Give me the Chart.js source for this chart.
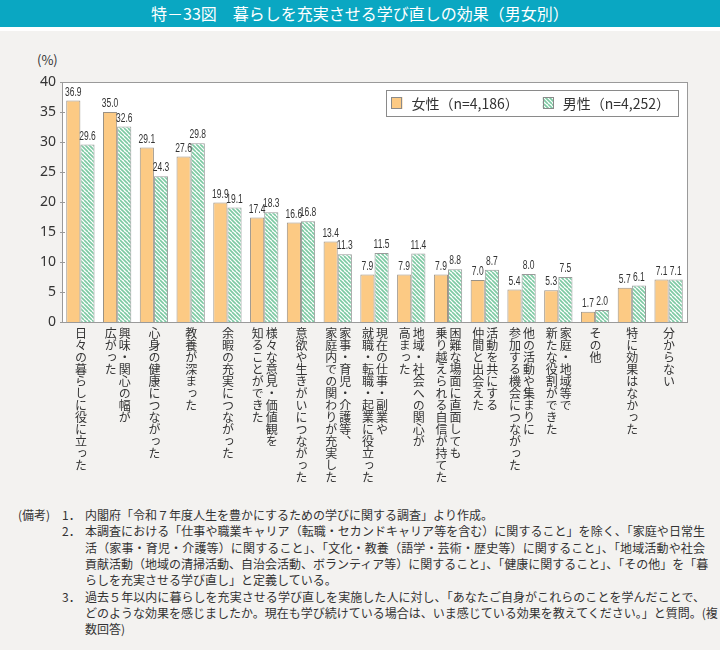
<!DOCTYPE html>
<html lang="ja">
<head>
<meta charset="utf-8">
<script src="https://cdn.jsdelivr.net/npm/chart.js@4.4.1/dist/chart.umd.min.js"></script>
<style>
  html, body { margin: 0; padding: 0; }
  body { width: 720px; height: 650px; background: #f3f2f0; position: relative; overflow: hidden;
         font-family: "Noto Sans CJK JP", sans-serif; color: #333; }
  #title { position: absolute; left: 0; top: 0; width: 720px; height: 27px; background: #0aa7c2;
           color: #fff; font-size: 16px; line-height: 27px; text-align: center; }
  #titleGap { position: absolute; left: 0; top: 27px; width: 720px; height: 4px; background: #fff; }
  #wrap { position: absolute; left: 0; top: 32px; width: 720px; height: 470px; }
  #unit { position: absolute; left: 37px; top: 50px; font-size: 13px; }
  .xl { position: absolute; writing-mode: vertical-rl; transform: translateX(-50%);
        font-size: 12px; line-height: 14px; white-space: nowrap; color: #333; }
  .nl { position: absolute; font-size: 12px; line-height: 16.3px; height: 16.3px; white-space: nowrap; }
  .jl { text-align: justify; text-align-last: justify; width: 620px; }
</style>
</head>
<body>
<div id="title">特－33図　暮らしを充実させる学び直しの効果（男女別）</div>
<div id="titleGap"></div>
<div id="unit">(%)</div>
<div id="wrap"><canvas id="myChart"></canvas></div>
<div id="notes"></div>

<script>
// 項目（縦書き、右の列から）
var categories = [
    ['日々の暮らしに役に立った'],
    ['興味・関心の幅が', '広がった'],
    ['心身の健康につながった'],
    ['教養が深まった'],
    ['余暇の充実につながった'],
    ['様々な意見・価値観を', '知ることができた'],
    ['意欲や生きがいにつながった'],
    ['家事・育児・介護等、', '家庭内での関わりが充実した'],
    ['現在の仕事・副業や', '就職・転職・起業に役立った'],
    ['地域・社会への関心が', '高まった'],
    ['困難な場面に直面しても', '乗り越えられる自信が持てた'],
    ['活動を共にする', '仲間と出会えた'],
    ['他の活動や集まりに', '参加する機会につながった'],
    ['家庭・地域等で', '新たな役割ができた'],
    ['その他'],
    ['特に効果はなかった'],
    ['分からない']
];
var female = [36.9, 35.0, 29.1, 27.6, 19.9, 17.4, 16.6, 13.4, 7.9, 7.9, 7.9, 7.0, 5.4, 5.3, 1.7, 5.7, 7.1];
var male   = [29.6, 32.6, 24.3, 29.8, 19.1, 18.3, 16.8, 11.3, 11.5, 11.4, 8.8, 8.7, 8.0, 7.5, 2.0, 6.1, 7.1];
var seriesNames = ['女性（n=4,186）', '男性（n=4,252）'];
var yTicks = [0, 5, 10, 15, 20, 25, 30, 35, 40];

var notes = [
    { no: '1．', lines: ['内閣府「令和７年度人生を豊かにするための学びに関する調査」より作成。'] },
    { no: '2．', lines: [
        '本調査における「仕事や職業キャリア（転職・セカンドキャリア等を含む）に関すること」を除く、「家庭や日常生',
        '活（家事・育児・介護等）に関すること」、「文化・教養（語学・芸術・歴史等）に関すること」、「地域活動や社会',
        '貢献活動（地域の清掃活動、自治会活動、ボランティア等）に関すること」、「健康に関すること」、「その他」を「暮',
        'らしを充実させる学び直し」と定義している。'] },
    { no: '3．', lines: [
        '過去５年以内に暮らしを充実させる学び直しを実施した人に対し、「あなたご自身がこれらのことを学んだことで、',
        'どのような効果を感じましたか。現在も学び続けている場合は、いま感じている効果を教えてください。」と質問。(複',
        '数回答)'] }
];

// 備考
(function () {
    var box = document.getElementById('notes');
    var top = 507, lh = 16.3;
    function add(text, left, cls) {
        var d = document.createElement('div');
        d.className = 'nl' + (cls ? ' ' + cls : '');
        d.style.left = left + 'px';
        d.style.top = top + 'px';
        d.textContent = text;
        box.appendChild(d);
    }
    add('(備考)', 18);
    notes.forEach(function (n) {
        add(n.no, 62);
        n.lines.forEach(function (t, i) {
            add(t, 85, i < n.lines.length - 1 ? 'jl' : '');
            top += lh;
        });
    });
})();

// 男性の斜線パターン
function stripes() {
    var c = document.createElement('canvas');
    c.width = c.height = 8;
    var g = c.getContext('2d');
    g.fillStyle = '#ffffff';
    g.fillRect(0, 0, 8, 8);
    g.strokeStyle = '#7cc9a2';
    g.lineWidth = 1.6;
    for (var k = -8; k <= 16; k += 4) {
        g.beginPath();
        g.moveTo(k, 0);
        g.lineTo(k + 8, 8);
        g.stroke();
    }
    return g.createPattern(c, 'repeat');
}

var plotFrame = {
    id: 'plotFrame',
    beforeDatasetsDraw: function (chart) {
        var a = chart.chartArea, ctx = chart.ctx;
        ctx.save();
        ctx.fillStyle = '#ffffff';
        ctx.fillRect(a.left, a.top, a.right - a.left, a.bottom - a.top);
        ctx.restore();
    },
    afterDatasetsDraw: function (chart) {
        var a = chart.chartArea, ctx = chart.ctx, y = chart.scales.y;
        ctx.save();
        ctx.strokeStyle = '#9a9a9a';
        ctx.lineWidth = 1;
        ctx.strokeRect(Math.round(a.left) + 0.5, Math.round(a.top) + 0.5,
                       Math.round(a.right - a.left), Math.round(a.bottom - a.top));
        yTicks.forEach(function (v) {
            var py = Math.round(y.getPixelForValue(v)) + 0.5;
            ctx.beginPath();
            ctx.moveTo(a.left - 2, py);
            ctx.lineTo(a.left + 3, py);
            ctx.stroke();
        });
        // 数値ラベル
        ctx.fillStyle = '#333';
        ctx.font = '12.5px "Liberation Sans", sans-serif';
        ctx.textAlign = 'center';
        ctx.textBaseline = 'bottom';
        chart.data.datasets.forEach(function (ds, di) {
            chart.getDatasetMeta(di).data.forEach(function (bar, i) {
                ctx.save();
                ctx.translate(bar.x, bar.y - 2);
                ctx.scale(0.68, 1);
                ctx.fillText(ds.data[i].toFixed(1), 0, 0);
                ctx.restore();
            });
        });
        ctx.restore();
    }
};

var boxLegend = {
    id: 'boxLegend',
    afterDraw: function (chart) {
        var a = chart.chartArea, ctx = chart.ctx;
        ctx.save();
        ctx.font = '14px "Noto Sans CJK JP", sans-serif';
        var w0 = ctx.measureText(seriesNames[0]).width;
        var w1 = ctx.measureText(seriesNames[1]).width;
        var width = 5 + 10 + 10 + w0 + 25 + 10 + 9 + w1 + 8;
        var right = a.right - 9, top = a.top + 8, h = 26;
        var left = right - width;
        ctx.fillStyle = '#fff';
        ctx.fillRect(left, top, width, h);
        ctx.strokeStyle = '#8a8a8a';
        ctx.strokeRect(Math.round(left) + 0.5, top + 0.5, Math.round(width), h);
        var cy = top + h / 2;
        var x = left + 5;
        chart.data.datasets.forEach(function (ds, di) {
            ctx.fillStyle = ds.backgroundColor;
            ctx.fillRect(x, cy - 6, 11, 12);
            ctx.strokeStyle = '#8a8a8a';
            ctx.strokeRect(Math.round(x) + 0.5, Math.round(cy - 6) + 0.5, 10, 11);
            x += 10 + 10;
            ctx.fillStyle = '#333';
            ctx.textBaseline = 'middle';
            ctx.fillText(seriesNames[di], x, cy + 1);
            x += (di === 0 ? w0 : w1) + 25;
            if (di === 0) x -= 1;
        });
        ctx.restore();
    }
};

var labelsDone = false;
var verticalLabels = {
    id: 'verticalLabels',
    afterRender: function (chart) {
        if (labelsDone) return;
        labelsDone = true;
        var wrap = document.getElementById('wrap');
        var xs = chart.scales.x;
        categories.forEach(function (cols, i) {
            var d = document.createElement('div');
            d.className = 'xl';
            d.innerHTML = cols.join('<br>');
            d.style.left = xs.getPixelForValue(i) + 'px';
            d.style.top = (chart.chartArea.bottom + 5) + 'px';
            wrap.appendChild(d);
        });
    }
};

var ctx = document.getElementById('myChart').getContext('2d');
var chart = new Chart(ctx, {
    type: 'bar',
    data: {
        labels: categories,
        datasets: [{
            label: seriesNames[0],
            data: female,
            backgroundColor: '#fcca84',
            borderColor: '#9a9286',
            borderWidth: 1,
            barPercentage: 1,
            categoryPercentage: 0.77
        }, {
            label: seriesNames[1],
            data: male,
            backgroundColor: stripes(),
            borderColor: '#9a9a9a',
            borderWidth: 1,
            barPercentage: 1,
            categoryPercentage: 0.77
        }]
    },
    options: {
        responsive: true,
        maintainAspectRatio: false,
        animation: false,
        layout: { padding: { top: 50, right: 33, bottom: 180, left: 0 } },
        plugins: { legend: { display: false }, tooltip: { enabled: false } },
        scales: {
            x: {
                ticks: { display: false },
                grid: { display: false, drawTicks: false },
                border: { display: false }
            },
            y: {
                min: 0,
                max: 40,
                ticks: { stepSize: 5, color: '#333', padding: 6,
                         font: { size: 14, family: '"Noto Sans", sans-serif' } },
                grid: { display: false, drawTicks: false },
                border: { display: false },
                afterFit: function (s) { s.width = 62; }
            }
        }
    },
    plugins: [plotFrame, boxLegend, verticalLabels]
});
</script>
</body>
</html>
